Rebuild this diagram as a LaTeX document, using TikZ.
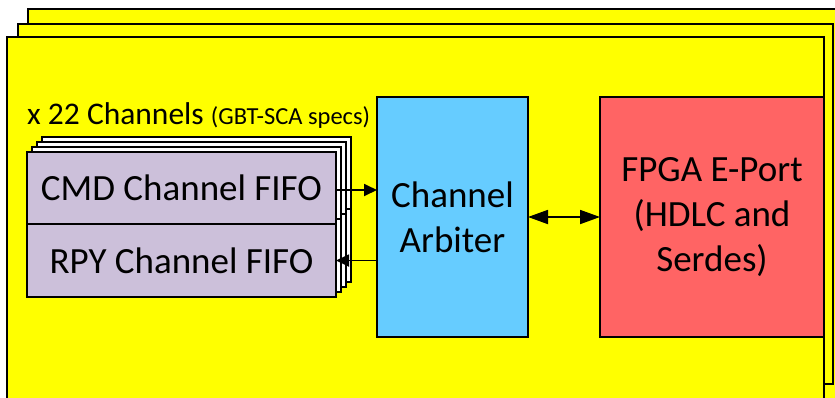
\documentclass[tikz,border=0pt]{standalone}
\usepackage{fontspec}
\setmainfont{Carlito}
\usetikzlibrary{arrows.meta}
\definecolor{panelyellow}{HTML}{FFFF00}
\definecolor{fifofill}{HTML}{CCC0DA}
\definecolor{arbfill}{HTML}{66CCFF}
\definecolor{portfill}{HTML}{FF6464}
\begin{document}
\begin{tikzpicture}[x=1pt,y=-1pt,
  box/.style={draw=black, line width=1.8pt, inner sep=0pt, outer sep=0pt, anchor=center},
  panel/.style={box, fill=panelyellow},
  fifo/.style={box, fill=fifofill, minimum width=309pt, font=\fontsize{37}{45}\selectfont},
  fifocopy/.style={box, fill=white, minimum width=309pt},
  bigtext/.style={font=\fontsize{37}{45}\selectfont, align=center},
  arr/.style={line width=1.8pt, -{Triangle[length=13pt,width=12pt]}},
  dblarr/.style={line width=1.8pt, {Triangle[length=20pt,width=14pt]}-{Triangle[length=20pt,width=14pt]}}]
\useasboundingbox (0,0) rectangle (835,397);
\clip (0,0) rectangle (835,397);

% stacked yellow panels
\node[panel, minimum width=832pt, minimum height=411pt] (panelC) at (444,214.5) {};
\node[panel, minimum width=815pt, minimum height=360pt] (panelB) at (425.5,204) {};
\node[panel, minimum width=817pt, minimum height=383pt] (panelA) at (415.5,228.5) {};

% channel count label
\node[anchor=base west, inner sep=0pt, font=\fontsize{31.5}{38}\selectfont] (chlabel) at (27,124)
  {x 22 Channels {\fontsize{24.5}{29}\selectfont (GBT-SCA specs)}};

% copies of the FIFO pair behind the front one
\foreach \k in {3,2,1} {
  \node[fifocopy, minimum height=72pt] (cmdcopy\k) at (181.5+5*\k,188-5*\k) {};
  \node[fifocopy, minimum height=73pt] (rpycopy\k) at (181.5+5*\k,260.5-5*\k) {};
}

% front FIFO pair
\node[fifo, minimum height=72pt] (cmd) at (181.5,188) {CMD Channel FIFO};
\node[fifo, minimum height=73pt] (rpy) at (181.5,260.5) {RPY Channel FIFO};

% arbiter and E-port
\node[box, fill=arbfill, minimum width=151pt, minimum height=240pt] (arb) at (452.5,217) {};
\node[bigtext] (arbtext) at (arb.center) {Channel\\Arbiter};
\node[box, fill=portfill, minimum width=224pt, minimum height=240pt] (fpga) at (712,217) {};
\node[bigtext] (fpgatext) at (fpga.center) {FPGA E-Port\\(HDLC and\\Serdes)};

% connections
\draw[arr] ([yshift=-2pt]cmd.east) -- ([yshift=-2pt]cmd.east -| arb.west);
\draw[arr] (rpy.east -| arb.west) -- (rpy.east);
\draw[dblarr] (arb.east) -- (fpga.west);
\end{tikzpicture}
\end{document}
